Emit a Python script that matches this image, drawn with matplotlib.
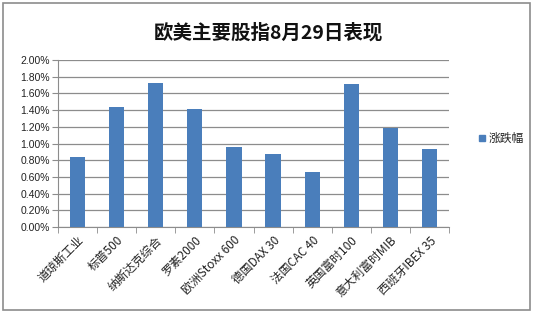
import matplotlib
matplotlib.use('Agg')
import matplotlib.pyplot as plt
from matplotlib.patches import Rectangle
from matplotlib.ticker import FuncFormatter, FixedLocator
import numpy as np

plt.rcParams['font.family'] = ['Noto Sans CJK SC', 'DejaVu Sans']

TITLE = '欧美主要股指8月29日表现'
SERIES = '涨跌幅'
indices = ['道琼斯工业', '标普500', '纳斯达克综合', '罗素2000', '欧洲Stoxx 600',
           '德国DAX 30', '法国CAC 40', '英国富时100', '意大利富时MIB', '西班牙IBEX 35']
changes = [0.84, 1.44, 1.73, 1.41, 0.96, 0.87, 0.66, 1.71, 1.19, 0.94]  # percent

BLUE = '#4a7ebb'
GRID = '#8c8c8c'

fig = plt.figure(figsize=(5.36, 3.19), dpi=100)
W, H = 536, 319
ax = fig.add_axes([58 / W, 1 - 227 / H, (449 - 58) / W, (227 - 60) / H])

x = np.arange(len(indices))
ax.bar(x, changes, width=0.39, color=BLUE, zorder=3)

ax.set_xlim(-0.5, len(indices) - 0.5)
ax.set_ylim(0, 2.0)
ax.set_yticks(np.arange(0, 2.01, 0.2))
ax.yaxis.set_major_formatter(FuncFormatter(lambda v, p: '%.2f%%' % v))
ax.grid(axis='y', color=GRID, linewidth=0.9, zorder=0)
ax.tick_params(axis='y', length=4, color=GRID, labelsize=7.5, pad=2,
               labelcolor='#222222')
for lbl in ax.get_yticklabels():
    lbl.set_family(['Liberation Sans', 'DejaVu Sans'])

ax.set_xticks(x)
ax.set_xticklabels(indices, rotation=45, ha='right', rotation_mode='anchor',
                   fontsize=8.5, color='#222222')
ax.tick_params(axis='x', length=0, pad=5)
ax.xaxis.set_minor_locator(FixedLocator(np.arange(-0.5, len(indices), 1.0)))
ax.tick_params(axis='x', which='minor', length=4, color=GRID)

for s in ['top', 'right']:
    ax.spines[s].set_visible(False)
ax.spines['left'].set_color(GRID)
ax.spines['bottom'].set_color(GRID)

fig.text(268 / W, 1 - 33 / H, TITLE, ha='center', va='center', fontsize=14,
         fontweight='bold', color='#111111')

# legend
fig.patches.append(Rectangle((479 / W, 1 - 141 / H), 6 / W, 6 / H,
                             transform=fig.transFigure, color=BLUE))
fig.text(489 / W, 1 - 138 / H, SERIES, ha='left', va='center', fontsize=8.5,
         color='#222222')

# outer chart border
fig.patches.append(Rectangle((3 / W, 1 - 310 / H), (530 - 3) / W, (310 - 3) / H,
                             transform=fig.transFigure, fill=False,
                             edgecolor='#8c8c8c', linewidth=1.2))

fig.savefig('out.png', dpi=100)
